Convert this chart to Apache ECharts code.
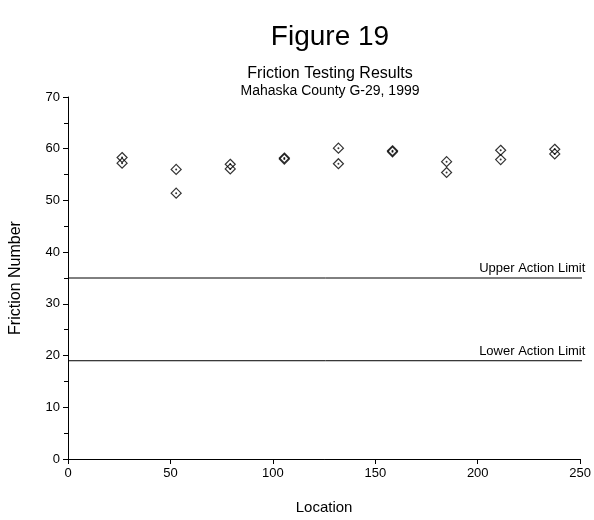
<!DOCTYPE html>
<html>
<head>
<meta charset="utf-8">
<script src="https://cdn.jsdelivr.net/npm/echarts@6/dist/echarts.min.js"></script>
<style>html,body{margin:0;padding:0;background:#fff;}#c{width:594px;height:520px;}</style>
</head>
<body>
<div id="c"></div>
<script>
const locations = [26.4, 26.4, 52.8, 52.8, 79.2, 79.2, 105.6, 105.6, 132, 132, 158.4, 158.4, 184.8, 184.8, 211.2, 211.2, 237.6, 237.6];
const frictionValues = [58.3, 57.2, 56.0, 51.4, 57.0, 56.1, 58.2, 58.0, 60.1, 57.1, 59.6, 59.4, 57.5, 55.4, 59.7, 57.9, 59.9, 59.0];
const upperLimit = 35;
const lowerLimit = 19;
const limitLineX = [0, 254];
const xTicks = [0, 50, 100, 150, 200, 250];
const yTicks = [0, 10, 20, 30, 40, 50, 60, 70];

const pts = locations.map((x, i) => [x, frictionValues[i]]);
const font = 'Liberation Sans, Arial, sans-serif';

function limitSeries(val, name) {
  return {
    type: 'line',
    clip: false,
    silent: true,
    symbol: 'circle',
    symbolSize: 0,
    showSymbol: true,
    lineStyle: { color: '#000', width: 1 },
    data: [
      { value: [limitLineX[0], val], label: { show: false } },
      { value: [limitLineX[1], val], label: { show: true, formatter: name, position: 'top', align: 'right', offset: [-3, 0], distance: 3, color: '#000', fontFamily: font, fontSize: 13 } }
    ]
  };
}

const chart = echarts.init(document.getElementById('c'), null, { renderer: 'canvas' });
chart.setOption({
  animation: false,
  backgroundColor: '#fff',
  title: [
    { text: 'Figure 19', left: 325, top: 18, textAlign: 'center', textStyle: { fontFamily: font, fontSize: 28, fontWeight: 'normal', color: '#000' } },
    { text: 'Friction Testing Results', left: 325, top: 61, textAlign: 'center', textStyle: { fontFamily: font, fontSize: 16, fontWeight: 'normal', color: '#000' } },
    { text: 'Mahaska County G-29, 1999', left: 325, top: 79, textAlign: 'center', textStyle: { fontFamily: font, fontSize: 14, fontWeight: 'normal', color: '#000' } }
  ],
  grid: { left: 67, right: 12, top: 97, bottom: 61 },
  xAxis: {
    type: 'value', min: xTicks[0], max: xTicks[xTicks.length - 1], interval: 50,
    name: 'Location', nameLocation: 'middle', nameGap: 41,
    nameTextStyle: { fontFamily: font, fontSize: 15, color: '#000' },
    axisLine: { show: true, lineStyle: { color: '#000', width: 1 } },
    axisTick: { show: true, inside: false, length: 5, lineStyle: { color: '#000' } },
    axisLabel: { fontFamily: font, fontSize: 13, color: '#000', margin: 8 },
    splitLine: { show: false }
  },
  yAxis: {
    type: 'value', min: yTicks[0], max: yTicks[yTicks.length - 1], interval: 10,
    name: 'Friction Number', nameLocation: 'middle', nameGap: 44,
    nameTextStyle: { fontFamily: font, fontSize: 16, color: '#000' },
    axisLine: { show: true, lineStyle: { color: '#000', width: 1 } },
    axisTick: { show: true, inside: false, length: 5, lineStyle: { color: '#000' } },
    minorTick: { show: true, splitNumber: 2, length: 4, lineStyle: { color: '#000' } },
    axisLabel: { fontFamily: font, fontSize: 13, color: '#000', margin: 8 },
    splitLine: { show: false }
  },
  series: [
    limitSeries(upperLimit, 'Upper Action Limit'),
    limitSeries(lowerLimit, 'Lower Action Limit'),
    {
      type: 'scatter', symbol: 'diamond', symbolSize: 10,
      itemStyle: { color: 'rgba(255,255,255,0)', borderColor: '#000', borderWidth: 1.2 },
      data: pts
    },
    {
      type: 'scatter', symbol: 'circle', symbolSize: 2,
      itemStyle: { color: '#000' },
      data: pts
    }
  ]
});
</script>
</body>
</html>
